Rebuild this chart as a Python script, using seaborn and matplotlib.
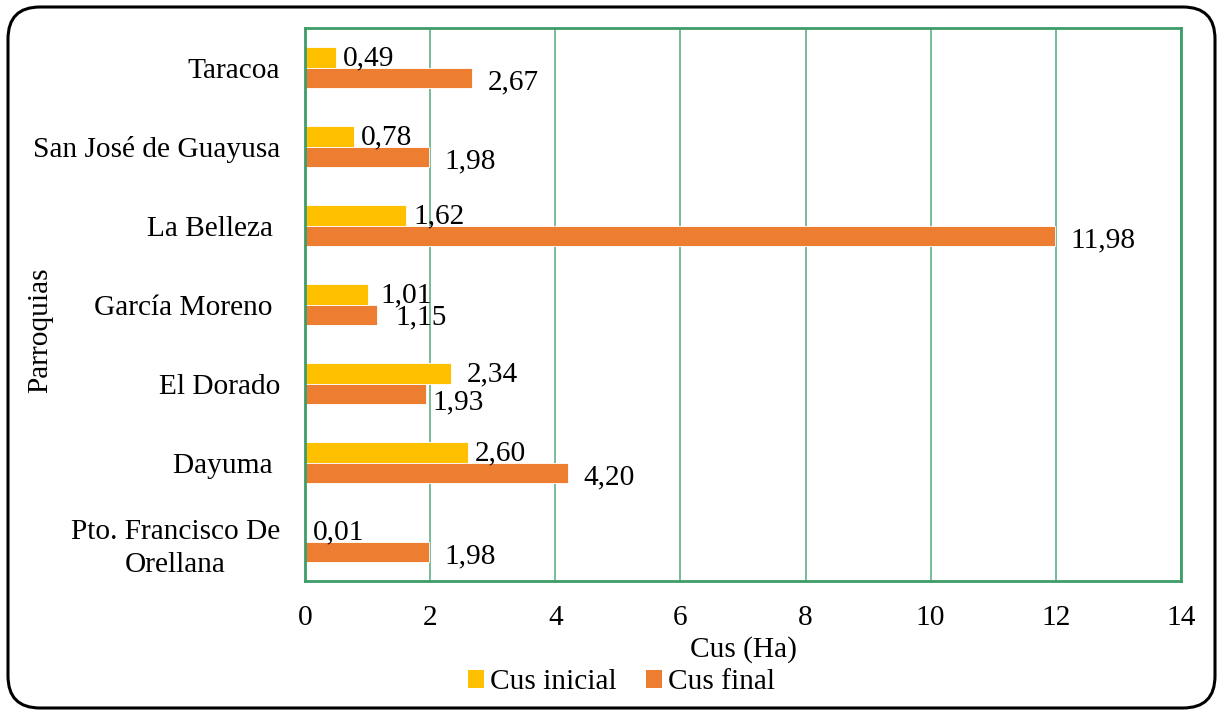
import matplotlib
matplotlib.use("Agg")
import matplotlib.pyplot as plt
from matplotlib.patches import FancyBboxPatch, Patch
from matplotlib.transforms import IdentityTransform
import seaborn as sns
import pandas as pd

# --- data -------------------------------------------------------------
parroquias = [
    "Taracoa",
    "San José de Guayusa",
    "La Belleza ",
    "García Moreno ",
    "El Dorado",
    "Dayuma ",
    "Pto. Francisco De\nOrellana",
]
cus_inicial = [0.49, 0.78, 1.62, 1.01, 2.34, 2.60, 0.01]
cus_final = [2.67, 1.98, 11.98, 1.15, 1.93, 4.20, 1.98]
series = ["Cus inicial", "Cus final"]
x_ticks = [0, 2, 4, 6, 8, 10, 12, 14]

# --- style ------------------------------------------------------------
colors = {"Cus inicial": "#FFC000", "Cus final": "#ED7D31"}
green_frame = "#3F9C68"
green_grid = "#55A97A"
font = "Liberation Serif"
fs = 21.2

# label offsets in points (dx, dy) per series, with a few nudges
label_offset = {"Cus inicial": (5, -1.0), "Cus final": (11.5, -3.0)}
label_nudge = {
    ("El Dorado", "Cus inicial"): (11, -1.0),
    ("El Dorado", "Cus final"): (5, -6.5),
    ("García Moreno ", "Cus inicial"): (8.5, -1.0),
    ("García Moreno ", "Cus final"): (13, -2.0),
}

sns.set_theme(style="white")
plt.rcParams["font.family"] = [font, "DejaVu Serif"]
plt.rcParams["text.color"] = "black"
plt.rcParams["axes.labelcolor"] = "black"

df = pd.DataFrame({
    "Parroquia": parroquias * 2,
    "Serie": [series[0]] * len(parroquias) + [series[1]] * len(parroquias),
    "Cus": cus_inicial + cus_final,
})

fig = plt.figure(figsize=(12.23, 7.15), dpi=100)
ax = fig.add_axes([0.2494, 0.1874, 0.9656 - 0.2494, 0.9608 - 0.1874])

sns.barplot(
    data=df, y="Parroquia", x="Cus", hue="Serie", orient="h",
    order=parroquias, hue_order=series, palette=colors,
    width=0.52, saturation=1, dodge=True, errorbar=None,
    edgecolor="white", linewidth=0.6, ax=ax, legend=False,
)

ax.set_xlim(0, 14)
ax.set_xticks(x_ticks)
ax.set_xticklabels([str(t) for t in x_ticks])
ax.xaxis.grid(True, color=green_grid, linewidth=1.1)
ax.yaxis.grid(False)
ax.set_axisbelow(True)
for side in ax.spines.values():
    side.set_visible(True)
    side.set_color(green_frame)
    side.set_linewidth(2)

ax.tick_params(axis="x", length=0, pad=17, labelsize=fs, labelcolor="black")
ax.tick_params(axis="y", length=0, pad=18, labelsize=fs, labelcolor="black")
for lab in ax.get_yticklabels():
    lab.set_multialignment("center")
    lab.set_linespacing(1.35)
ax.set_xlabel("")
ax.set_ylabel("")

# value labels with comma decimals
values = {series[0]: cus_inicial, series[1]: cus_final}
for container, serie in zip(ax.containers, series):
    for bar, cat, val in zip(container, parroquias, values[serie]):
        dx, dy = label_nudge.get((cat, serie), label_offset[serie])
        y = bar.get_y() + bar.get_height() / 2
        ax.annotate(
            f"{val:.2f}".replace(".", ","),
            xy=(val, y), xytext=(dx, dy),
            textcoords="offset points", ha="left", va="center",
            fontsize=fs, color="black",
        )

fig.text(0.6075, 0.0915, "Cus (Ha)", ha="center", va="center", fontsize=fs)
fig.text(0.033, 0.5385, "Parroquias", ha="center", va="center",
         rotation=90, fontsize=fs)

handles = [Patch(facecolor=colors[s], edgecolor="none") for s in series]
leg = fig.legend(
    handles, series, loc="center", bbox_to_anchor=(0.508, 0.046), ncol=2,
    frameon=False, fontsize=fs, handlelength=0.55, handleheight=0.55,
    handletextpad=0.2, columnspacing=1.0, borderpad=0,
)
for t in leg.get_texts():
    t.set_color("black")

# rounded outer border of the figure
border = FancyBboxPatch(
    (8, 7), 1207, 701, boxstyle="round,pad=0,rounding_size=32",
    transform=IdentityTransform(), facecolor="none", edgecolor="black",
    linewidth=2.2, zorder=10,
)
fig.patches.append(border)

fig.savefig("out.png", dpi=100)
